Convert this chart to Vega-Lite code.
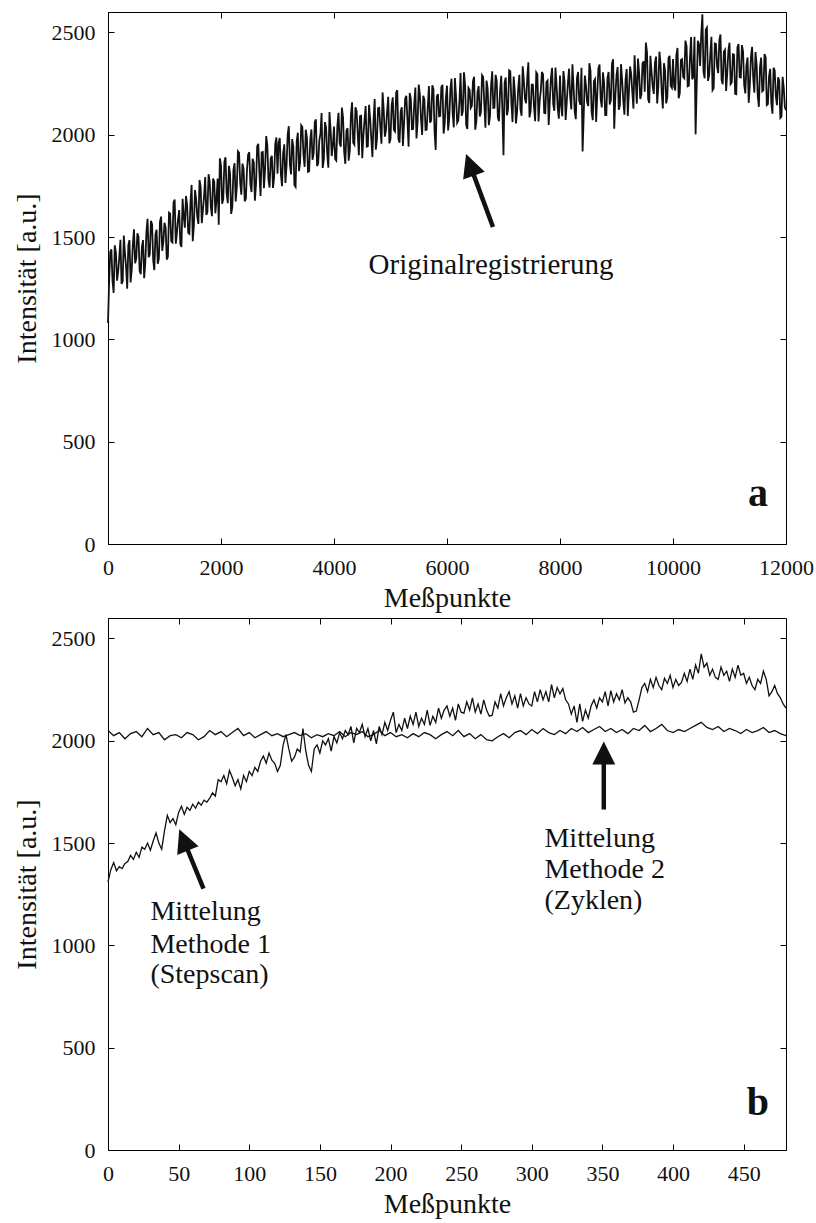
{
  "$schema": "https://vega.github.io/schema/vega-lite/v6.json",
  "background": "white",
  "padding": {"left": 12, "top": 10, "right": 5, "bottom": 0},
  "spacing": 4,
  "config": {
    "font": "Liberation Serif",
    "view": {"stroke": "black", "strokeWidth": 1},
    "axis": {
      "grid": false,
      "domain": false,
      "labelFont": "Liberation Serif",
      "labelFontSize": 22,
      "labelColor": "#111",
      "labelFlush": false,
      "labelOverlap": false,
      "titleFont": "Liberation Serif",
      "titleFontSize": 28,
      "titleFontWeight": "normal",
      "titleColor": "#111",
      "tickColor": "black",
      "tickSize": -6,
      "labelPadding": 19
    },
    "axisY": {"titlePadding": 10},
    "axisX": {"titlePadding": 6}
  },
  "datasets": {
    "orig": [
      {"x":0,"y":1080},{"x":40,"y":1427},{"x":80,"y":1284},{"x":120,"y":1460},{"x":160,"y":1287},{"x":200,"y":1404},{"x":240,"y":1271},{"x":280,"y":1508},{"x":320,"y":1354},{"x":360,"y":1461},{"x":400,"y":1278},{"x":440,"y":1465},{"x":480,"y":1372},{"x":520,"y":1518},{"x":560,"y":1335},{"x":600,"y":1452},{"x":640,"y":1299},{"x":680,"y":1526},{"x":720,"y":1402},{"x":760,"y":1579},{"x":800,"y":1386},{"x":840,"y":1513},{"x":880,"y":1370},{"x":920,"y":1576},{"x":960,"y":1433},
      {"x":1000,"y":1570},{"x":1040,"y":1390},{"x":1080,"y":1619},{"x":1120,"y":1479},{"x":1160,"y":1668},{"x":1200,"y":1468},{"x":1240,"y":1588},{"x":1280,"y":1467},{"x":1320,"y":1687},{"x":1360,"y":1546},{"x":1400,"y":1656},{"x":1440,"y":1516},{"x":1480,"y":1755},{"x":1520,"y":1555},{"x":1560,"y":1684},{"x":1600,"y":1564},{"x":1640,"y":1744},{"x":1680,"y":1633},{"x":1720,"y":1793},{"x":1760,"y":1622},{"x":1800,"y":1772},{"x":1840,"y":1602},{"x":1880,"y":1771},{"x":1920,"y":1681},{"x":1960,"y":1560},
      {"x":2000,"y":1850},{"x":2040,"y":1685},{"x":2080,"y":1890},{"x":2120,"y":1666},{"x":2160,"y":1811},{"x":2200,"y":1646},{"x":2240,"y":1861},{"x":2280,"y":1746},{"x":2320,"y":1912},{"x":2360,"y":1707},{"x":2400,"y":1832},{"x":2440,"y":1687},{"x":2480,"y":1902},{"x":2520,"y":1758},{"x":2560,"y":1883},{"x":2600,"y":1678},{"x":2640,"y":1943},{"x":2680,"y":1808},{"x":2720,"y":1914},{"x":2760,"y":1739},{"x":2800,"y":1994},{"x":2840,"y":1779},{"x":2880,"y":1884},{"x":2920,"y":1740},{"x":2960,"y":1955},
      {"x":3000,"y":1810},{"x":3040,"y":1984},{"x":3080,"y":1749},{"x":3120,"y":1953},{"x":3160,"y":1848},{"x":3200,"y":2042},{"x":3240,"y":1806},{"x":3280,"y":1941},{"x":3320,"y":1745},{"x":3360,"y":2010},{"x":3400,"y":1864},{"x":3440,"y":2038},{"x":3480,"y":1843},{"x":3520,"y":1987},{"x":3560,"y":1822},{"x":3600,"y":2026},{"x":3640,"y":1910},{"x":3680,"y":2075},{"x":3720,"y":1859},{"x":3760,"y":2004},{"x":3800,"y":1838},{"x":3840,"y":2062},{"x":3880,"y":1907},{"x":3920,"y":2111},{"x":3960,"y":1896},
      {"x":4000,"y":2040},{"x":4040,"y":1874},{"x":4080,"y":2107},{"x":4120,"y":1941},{"x":4160,"y":2084},{"x":4200,"y":1858},{"x":4240,"y":2032},{"x":4280,"y":1925},{"x":4320,"y":2159},{"x":4360,"y":1952},{"x":4400,"y":2116},{"x":4440,"y":1900},{"x":4480,"y":2093},{"x":4520,"y":1997},{"x":4560,"y":2140},{"x":4600,"y":1944},{"x":4640,"y":2078},{"x":4680,"y":1891},{"x":4720,"y":2175},{"x":4760,"y":1978},{"x":4800,"y":2132},{"x":4840,"y":1956},{"x":4880,"y":2119},{"x":4920,"y":2023},{"x":4960,"y":2186},
      {"x":5000,"y":1980},{"x":5040,"y":2183},{"x":5080,"y":2016},{"x":5120,"y":2218},{"x":5160,"y":1961},{"x":5200,"y":2134},{"x":5240,"y":2057},{"x":5280,"y":2190},{"x":5320,"y":1942},{"x":5360,"y":2175},{"x":5400,"y":2028},{"x":5440,"y":2231},{"x":5480,"y":2064},{"x":5520,"y":2196},{"x":5560,"y":1999},{"x":5600,"y":2172},{"x":5640,"y":2025},{"x":5680,"y":2238},{"x":5720,"y":2070},{"x":5760,"y":2223},{"x":5800,"y":1926},{"x":5840,"y":2199},{"x":5880,"y":2092},{"x":5920,"y":2244},{"x":5960,"y":2057},
      {"x":6000,"y":2240},{"x":6040,"y":2082},{"x":6080,"y":2274},{"x":6120,"y":2036},{"x":6160,"y":2188},{"x":6200,"y":2070},{"x":6240,"y":2302},{"x":6280,"y":2114},{"x":6320,"y":2246},{"x":6360,"y":2028},{"x":6400,"y":2220},{"x":6440,"y":2142},{"x":6480,"y":2284},{"x":6520,"y":2066},{"x":6560,"y":2238},{"x":6600,"y":2110},{"x":6640,"y":2282},{"x":6680,"y":2034},{"x":6720,"y":2226},{"x":6760,"y":2088},{"x":6800,"y":2310},{"x":6840,"y":2132},{"x":6880,"y":2264},{"x":6920,"y":2066},{"x":6960,"y":2288},
      {"x":7000,"y":1900},{"x":7040,"y":2280},{"x":7080,"y":2121},{"x":7120,"y":2311},{"x":7160,"y":2062},{"x":7200,"y":2212},{"x":7240,"y":2112},{"x":7280,"y":2293},{"x":7320,"y":2093},{"x":7360,"y":2264},{"x":7400,"y":2154},{"x":7440,"y":2354},{"x":7480,"y":2115},{"x":7520,"y":2245},{"x":7560,"y":2066},{"x":7600,"y":2296},{"x":7640,"y":2166},{"x":7680,"y":2307},{"x":7720,"y":2107},{"x":7760,"y":2258},{"x":7800,"y":2048},{"x":7840,"y":2278},{"x":7880,"y":2149},{"x":7920,"y":2329},{"x":7960,"y":2130},
      {"x":8000,"y":2290},{"x":8040,"y":2091},{"x":8080,"y":2262},{"x":8120,"y":2162},{"x":8160,"y":2323},{"x":8200,"y":2124},{"x":8240,"y":2235},{"x":8280,"y":2076},{"x":8320,"y":2307},{"x":8360,"y":2147},{"x":8400,"y":1918},{"x":8440,"y":2289},{"x":8480,"y":2160},{"x":8520,"y":2350},{"x":8560,"y":2111},{"x":8600,"y":2262},{"x":8640,"y":2063},{"x":8680,"y":2324},{"x":8720,"y":2174},{"x":8760,"y":2305},{"x":8800,"y":2096},{"x":8840,"y":2277},{"x":8880,"y":2148},{"x":8920,"y":2348},{"x":8960,"y":2029},
      {"x":9000,"y":2290},{"x":9040,"y":2122},{"x":9080,"y":2345},{"x":9120,"y":2167},{"x":9160,"y":2270},{"x":9200,"y":2092},{"x":9240,"y":2334},{"x":9280,"y":2207},{"x":9320,"y":2389},{"x":9360,"y":2152},{"x":9400,"y":2304},{"x":9440,"y":2196},{"x":9480,"y":2359},{"x":9520,"y":2451},{"x":9560,"y":2174},{"x":9600,"y":2386},{"x":9640,"y":2238},{"x":9680,"y":2351},{"x":9720,"y":2153},{"x":9760,"y":2406},{"x":9800,"y":2208},{"x":9840,"y":2350},{"x":9880,"y":2153},{"x":9920,"y":2375},{"x":9960,"y":2238},
      {"x":10000,"y":2370},{"x":10040,"y":2217},{"x":10080,"y":2424},{"x":10120,"y":2202},{"x":10160,"y":2369},{"x":10200,"y":2276},{"x":10240,"y":2433},{"x":10280,"y":2240},{"x":10320,"y":2478},{"x":10360,"y":2285},{"x":10400,"y":2002},{"x":10440,"y":2459},{"x":10480,"y":2336},{"x":10520,"y":2589},{"x":10560,"y":2276},{"x":10600,"y":2524},{"x":10640,"y":2292},{"x":10680,"y":2479},{"x":10720,"y":2227},{"x":10760,"y":2444},{"x":10800,"y":2302},{"x":10840,"y":2490},{"x":10880,"y":2247},{"x":10920,"y":2415},{"x":10960,"y":2302},
      {"x":11000,"y":2450},{"x":11040,"y":2256},{"x":11080,"y":2392},{"x":11120,"y":2198},{"x":11160,"y":2444},{"x":11200,"y":2280},{"x":11240,"y":2406},{"x":11280,"y":2202},{"x":11320,"y":2378},{"x":11360,"y":2244},{"x":11400,"y":2430},{"x":11440,"y":2206},{"x":11480,"y":2342},{"x":11520,"y":2136},{"x":11560,"y":2377},{"x":11600,"y":2218},{"x":11640,"y":2379},{"x":11680,"y":2150},{"x":11720,"y":2322},{"x":11760,"y":2103},{"x":11800,"y":2314},{"x":11840,"y":2145},{"x":11880,"y":2266},{"x":11920,"y":2088},{"x":11960,"y":2229},{"x":12000,"y":2120},
      {"x":20,"y":1283},{"x":60,"y":1440},{"x":100,"y":1227},{"x":140,"y":1424},{"x":180,"y":1331},{"x":220,"y":1487},{"x":260,"y":1284},{"x":300,"y":1421},{"x":340,"y":1248},{"x":380,"y":1485},{"x":420,"y":1341},{"x":460,"y":1538},{"x":500,"y":1395},{"x":540,"y":1502},{"x":580,"y":1319},{"x":620,"y":1485},{"x":660,"y":1372},{"x":700,"y":1589},{"x":740,"y":1416},{"x":780,"y":1563},{"x":820,"y":1339},{"x":860,"y":1536},{"x":900,"y":1393},{"x":940,"y":1600},{"x":980,"y":1477},
      {"x":1020,"y":1545},{"x":1060,"y":1404},{"x":1100,"y":1614},{"x":1140,"y":1474},{"x":1180,"y":1683},{"x":1220,"y":1523},{"x":1260,"y":1632},{"x":1300,"y":1452},{"x":1340,"y":1602},{"x":1380,"y":1701},{"x":1420,"y":1521},{"x":1460,"y":1670},{"x":1500,"y":1480},{"x":1540,"y":1730},{"x":1580,"y":1599},{"x":1620,"y":1779},{"x":1660,"y":1568},{"x":1700,"y":1698},{"x":1740,"y":1608},{"x":1780,"y":1807},{"x":1820,"y":1647},{"x":1860,"y":1786},{"x":1900,"y":1616},{"x":1940,"y":1786},{"x":1980,"y":1885},
      {"x":2020,"y":1663},{"x":2060,"y":1868},{"x":2100,"y":1713},{"x":2140,"y":1848},{"x":2180,"y":1613},{"x":2220,"y":1829},{"x":2260,"y":1674},{"x":2300,"y":1919},{"x":2340,"y":1764},{"x":2380,"y":1859},{"x":2420,"y":1675},{"x":2460,"y":1830},{"x":2500,"y":1915},{"x":2540,"y":1720},{"x":2580,"y":1865},{"x":2620,"y":1761},{"x":2660,"y":1956},{"x":2700,"y":1701},{"x":2740,"y":1916},{"x":2780,"y":1831},{"x":2820,"y":1947},{"x":2860,"y":1742},{"x":2900,"y":1897},{"x":2940,"y":1792},{"x":2980,"y":1987},
      {"x":3020,"y":1962},{"x":3060,"y":1807},{"x":3100,"y":1911},{"x":3140,"y":1765},{"x":3180,"y":2000},{"x":3220,"y":1854},{"x":3260,"y":1979},{"x":3300,"y":1753},{"x":3340,"y":1967},{"x":3380,"y":1822},{"x":3420,"y":2046},{"x":3460,"y":1901},{"x":3500,"y":2025},{"x":3540,"y":1819},{"x":3580,"y":1974},{"x":3620,"y":1878},{"x":3660,"y":2063},{"x":3700,"y":1847},{"x":3740,"y":1971},{"x":3780,"y":2106},{"x":3820,"y":1880},{"x":3860,"y":2035},{"x":3900,"y":1839},{"x":3940,"y":2023},{"x":3980,"y":1948},
      {"x":4020,"y":1882},{"x":4060,"y":2045},{"x":4100,"y":1959},{"x":4140,"y":2133},{"x":4180,"y":1916},{"x":4220,"y":2020},{"x":4260,"y":1873},{"x":4300,"y":2097},{"x":4340,"y":1961},{"x":4380,"y":2134},{"x":4420,"y":2008},{"x":4460,"y":2091},{"x":4500,"y":1885},{"x":4540,"y":2069},{"x":4580,"y":1942},{"x":4620,"y":2146},{"x":4660,"y":1979},{"x":4700,"y":2073},{"x":4740,"y":1927},{"x":4780,"y":2130},{"x":4820,"y":2034},{"x":4860,"y":2207},{"x":4900,"y":1991},{"x":4940,"y":2115},{"x":4980,"y":1958},
      {"x":5020,"y":2141},{"x":5060,"y":2024},{"x":5100,"y":2207},{"x":5140,"y":1980},{"x":5180,"y":2113},{"x":5220,"y":1945},{"x":5260,"y":2178},{"x":5300,"y":2071},{"x":5340,"y":2204},{"x":5380,"y":2027},{"x":5420,"y":2149},{"x":5460,"y":1982},{"x":5500,"y":2245},{"x":5540,"y":2078},{"x":5580,"y":2191},{"x":5620,"y":2023},{"x":5660,"y":2136},{"x":5700,"y":2059},{"x":5740,"y":2242},{"x":5780,"y":2015},{"x":5820,"y":2187},{"x":5860,"y":2090},{"x":5900,"y":2233},{"x":5940,"y":2006},{"x":5980,"y":2179},
      {"x":6020,"y":2021},{"x":6060,"y":2223},{"x":6100,"y":2105},{"x":6140,"y":2277},{"x":6180,"y":2059},{"x":6220,"y":2161},{"x":6260,"y":2093},{"x":6300,"y":2305},{"x":6340,"y":2047},{"x":6380,"y":2229},{"x":6420,"y":2131},{"x":6460,"y":2263},{"x":6500,"y":2025},{"x":6540,"y":2207},{"x":6580,"y":2089},{"x":6620,"y":2291},{"x":6660,"y":2153},{"x":6700,"y":2265},{"x":6740,"y":2047},{"x":6780,"y":2239},{"x":6820,"y":2131},{"x":6860,"y":2293},{"x":6900,"y":2085},{"x":6940,"y":2217},{"x":6980,"y":2119},
      {"x":7020,"y":2255},{"x":7060,"y":2095},{"x":7100,"y":2315},{"x":7140,"y":2155},{"x":7180,"y":2285},{"x":7220,"y":2055},{"x":7260,"y":2225},{"x":7300,"y":2125},{"x":7340,"y":2335},{"x":7380,"y":2175},{"x":7420,"y":2275},{"x":7460,"y":2085},{"x":7500,"y":2245},{"x":7540,"y":2135},{"x":7580,"y":2305},{"x":7620,"y":2065},{"x":7660,"y":2215},{"x":7700,"y":2295},{"x":7740,"y":2105},{"x":7780,"y":2265},{"x":7820,"y":2167},{"x":7860,"y":2327},{"x":7900,"y":2117},{"x":7940,"y":2237},{"x":7980,"y":2079},
      {"x":8020,"y":2140},{"x":8060,"y":2311},{"x":8100,"y":2072},{"x":8140,"y":2253},{"x":8180,"y":2185},{"x":8220,"y":2345},{"x":8260,"y":2116},{"x":8300,"y":2277},{"x":8340,"y":2167},{"x":8380,"y":2328},{"x":8420,"y":2098},{"x":8460,"y":2240},{"x":8500,"y":2140},{"x":8540,"y":2311},{"x":8580,"y":2071},{"x":8620,"y":2272},{"x":8660,"y":2202},{"x":8700,"y":2343},{"x":8740,"y":2134},{"x":8780,"y":2255},{"x":8820,"y":2096},{"x":8860,"y":2307},{"x":8900,"y":2168},{"x":8940,"y":2369},{"x":8980,"y":2190},
      {"x":9020,"y":2331},{"x":9060,"y":2144},{"x":9100,"y":2266},{"x":9140,"y":2098},{"x":9180,"y":2321},{"x":9220,"y":2213},{"x":9260,"y":2296},{"x":9300,"y":2128},{"x":9340,"y":2260},{"x":9380,"y":2373},{"x":9420,"y":2175},{"x":9460,"y":2348},{"x":9500,"y":2210},{"x":9540,"y":2402},{"x":9580,"y":2155},{"x":9620,"y":2307},{"x":9660,"y":2200},{"x":9700,"y":2382},{"x":9740,"y":2234},{"x":9780,"y":2347},{"x":9820,"y":2129},{"x":9860,"y":2312},{"x":9900,"y":2184},{"x":9940,"y":2386},{"x":9980,"y":2229},
      {"x":10020,"y":2234},{"x":10060,"y":2391},{"x":10100,"y":2178},{"x":10140,"y":2365},{"x":10180,"y":2283},{"x":10220,"y":2460},{"x":10260,"y":2237},{"x":10300,"y":2374},{"x":10340,"y":2271},{"x":10380,"y":2479},{"x":10420,"y":2246},{"x":10460,"y":2443},{"x":10500,"y":2490},{"x":10540,"y":2308},{"x":10580,"y":2515},{"x":10620,"y":2263},{"x":10660,"y":2390},{"x":10700,"y":2218},{"x":10740,"y":2446},{"x":10780,"y":2333},{"x":10820,"y":2461},{"x":10860,"y":2268},{"x":10900,"y":2406},{"x":10940,"y":2214},{"x":10980,"y":2411},
      {"x":11020,"y":2248},{"x":11060,"y":2394},{"x":11100,"y":2200},{"x":11140,"y":2426},{"x":11180,"y":2282},{"x":11220,"y":2438},{"x":11260,"y":2244},{"x":11300,"y":2340},{"x":11340,"y":2156},{"x":11380,"y":2382},{"x":11420,"y":2278},{"x":11460,"y":2404},{"x":11500,"y":2190},{"x":11540,"y":2331},{"x":11580,"y":2212},{"x":11620,"y":2394},{"x":11660,"y":2145},{"x":11700,"y":2286},{"x":11740,"y":2157},{"x":11780,"y":2328},{"x":11820,"y":2190},{"x":11860,"y":2281},{"x":11900,"y":2082},{"x":11940,"y":2283},{"x":11980,"y":2135}
    ],
    "stepscan": [
      {"x":0,"y":1310},{"x":2,"y":1370},{"x":4,"y":1405},{"x":6,"y":1365},{"x":8,"y":1385},{"x":10,"y":1375},{"x":12,"y":1400},{"x":14,"y":1410},{"x":16,"y":1440},{"x":18,"y":1420},{"x":20,"y":1455},{"x":22,"y":1430},{"x":24,"y":1480},{"x":26,"y":1470},{"x":28,"y":1500},{"x":30,"y":1465},{"x":32,"y":1510},{"x":34,"y":1550},{"x":36,"y":1500},{"x":38,"y":1470},{"x":40,"y":1560},{"x":42,"y":1635},{"x":44,"y":1600},{"x":46,"y":1620},{"x":48,"y":1590},{"x":50,"y":1650},{"x":52,"y":1680},{"x":54,"y":1640},{"x":56,"y":1675},{"x":58,"y":1660},{"x":60,"y":1690},{"x":62,"y":1670},{"x":64,"y":1700},{"x":66,"y":1685},{"x":68,"y":1710},{"x":70,"y":1700},{"x":72,"y":1720},{"x":74,"y":1745},{"x":76,"y":1730},{"x":78,"y":1810},
      {"x":80,"y":1800},{"x":82,"y":1830},{"x":84,"y":1790},{"x":86,"y":1855},{"x":88,"y":1820},{"x":90,"y":1780},{"x":92,"y":1810},{"x":94,"y":1765},{"x":96,"y":1830},{"x":98,"y":1800},{"x":100,"y":1850},{"x":102,"y":1830},{"x":104,"y":1870},{"x":106,"y":1850},{"x":108,"y":1900},{"x":110,"y":1925},{"x":112,"y":1890},{"x":114,"y":1940},{"x":116,"y":1905},{"x":118,"y":1890},{"x":120,"y":1850},{"x":122,"y":1880},{"x":124,"y":1980},{"x":126,"y":2030},{"x":128,"y":1960},{"x":130,"y":1900},{"x":132,"y":1920},{"x":134,"y":1960},{"x":136,"y":1945},{"x":138,"y":2060},{"x":140,"y":1950},{"x":142,"y":1880},{"x":144,"y":1850},{"x":146,"y":1960},{"x":148,"y":1980},{"x":150,"y":1940},{"x":152,"y":2000},{"x":154,"y":1980},{"x":156,"y":2010},{"x":158,"y":1950},
      {"x":160,"y":2020},{"x":162,"y":1990},{"x":164,"y":2040},{"x":166,"y":2010},{"x":168,"y":2050},{"x":170,"y":2030},{"x":172,"y":2070},{"x":174,"y":1990},{"x":176,"y":2060},{"x":178,"y":2040},{"x":180,"y":2080},{"x":182,"y":2020},{"x":184,"y":2060},{"x":186,"y":2000},{"x":188,"y":2050},{"x":190,"y":1985},{"x":192,"y":2070},{"x":194,"y":2030},{"x":196,"y":2090},{"x":198,"y":2050},{"x":200,"y":2100},{"x":202,"y":2140},{"x":204,"y":2040},{"x":206,"y":2080},{"x":208,"y":2050},{"x":210,"y":2110},{"x":212,"y":2060},{"x":214,"y":2120},{"x":216,"y":2080},{"x":218,"y":2140},{"x":220,"y":2070},{"x":222,"y":2110},{"x":224,"y":2080},{"x":226,"y":2150},{"x":228,"y":2075},{"x":230,"y":2120},{"x":232,"y":2090},{"x":234,"y":2160},{"x":236,"y":2110},{"x":238,"y":2150},
      {"x":240,"y":2170},{"x":242,"y":2120},{"x":244,"y":2160},{"x":246,"y":2100},{"x":248,"y":2180},{"x":250,"y":2140},{"x":252,"y":2135},{"x":254,"y":2190},{"x":256,"y":2150},{"x":258,"y":2210},{"x":260,"y":2140},{"x":262,"y":2180},{"x":264,"y":2130},{"x":266,"y":2200},{"x":268,"y":2150},{"x":270,"y":2120},{"x":272,"y":2125},{"x":274,"y":2190},{"x":276,"y":2160},{"x":278,"y":2230},{"x":280,"y":2170},{"x":282,"y":2210},{"x":284,"y":2240},{"x":286,"y":2180},{"x":288,"y":2220},{"x":290,"y":2160},{"x":292,"y":2230},{"x":294,"y":2170},{"x":296,"y":2210},{"x":298,"y":2180},{"x":300,"y":2170},{"x":302,"y":2240},{"x":304,"y":2190},{"x":306,"y":2250},{"x":308,"y":2200},{"x":310,"y":2240},{"x":312,"y":2190},{"x":314,"y":2275},{"x":316,"y":2210},{"x":318,"y":2260},
      {"x":320,"y":2230},{"x":322,"y":2255},{"x":324,"y":2200},{"x":326,"y":2180},{"x":328,"y":2130},{"x":330,"y":2170},{"x":332,"y":2090},{"x":334,"y":2180},{"x":336,"y":2095},{"x":338,"y":2150},{"x":340,"y":2110},{"x":342,"y":2170},{"x":344,"y":2200},{"x":346,"y":2160},{"x":348,"y":2210},{"x":350,"y":2190},{"x":352,"y":2240},{"x":354,"y":2170},{"x":356,"y":2245},{"x":358,"y":2190},{"x":360,"y":2230},{"x":362,"y":2200},{"x":364,"y":2250},{"x":366,"y":2185},{"x":368,"y":2210},{"x":370,"y":2190},{"x":372,"y":2140},{"x":374,"y":2145},{"x":376,"y":2200},{"x":378,"y":2260},{"x":380,"y":2280},{"x":382,"y":2240},{"x":384,"y":2300},{"x":386,"y":2260},{"x":388,"y":2310},{"x":390,"y":2270},{"x":392,"y":2250},{"x":394,"y":2305},{"x":396,"y":2280},{"x":398,"y":2320},
      {"x":400,"y":2260},{"x":402,"y":2300},{"x":404,"y":2270},{"x":406,"y":2285},{"x":408,"y":2330},{"x":410,"y":2290},{"x":412,"y":2350},{"x":414,"y":2300},{"x":416,"y":2370},{"x":418,"y":2330},{"x":420,"y":2425},{"x":422,"y":2360},{"x":424,"y":2380},{"x":426,"y":2320},{"x":428,"y":2350},{"x":430,"y":2310},{"x":432,"y":2300},{"x":434,"y":2360},{"x":436,"y":2320},{"x":438,"y":2340},{"x":440,"y":2290},{"x":442,"y":2350},{"x":444,"y":2310},{"x":446,"y":2370},{"x":448,"y":2320},{"x":450,"y":2330},{"x":452,"y":2280},{"x":454,"y":2310},{"x":456,"y":2270},{"x":458,"y":2250},{"x":460,"y":2300},{"x":462,"y":2280},{"x":464,"y":2340},{"x":466,"y":2300},{"x":468,"y":2220},{"x":470,"y":2240},{"x":472,"y":2270},{"x":474,"y":2230},{"x":476,"y":2210},{"x":478,"y":2180},{"x":480,"y":2160}
    ],
    "zyklen": [
      {"x":0,"y":2050},{"x":4,"y":2025},{"x":8,"y":2040},{"x":12,"y":2010},{"x":16,"y":2035},{"x":20,"y":2045},{"x":24,"y":2020},{"x":28,"y":2060},{"x":32,"y":2030},{"x":36,"y":2040},{"x":40,"y":2005},{"x":44,"y":2025},{"x":48,"y":2030},{"x":52,"y":2015},{"x":56,"y":2040},{"x":60,"y":2030},{"x":64,"y":2005},{"x":68,"y":2020},{"x":72,"y":2050},{"x":76,"y":2030},{"x":80,"y":2045},{"x":84,"y":2020},{"x":88,"y":2040},{"x":92,"y":2060},{"x":96,"y":2025},{"x":100,"y":2040},{"x":104,"y":2015},{"x":108,"y":2030},{"x":112,"y":2045},{"x":116,"y":2025},
      {"x":120,"y":2035},{"x":124,"y":2020},{"x":128,"y":2030},{"x":132,"y":2040},{"x":136,"y":2025},{"x":140,"y":2035},{"x":144,"y":2015},{"x":148,"y":2030},{"x":152,"y":2020},{"x":156,"y":2035},{"x":160,"y":2025},{"x":164,"y":2045},{"x":168,"y":2020},{"x":172,"y":2040},{"x":176,"y":2030},{"x":180,"y":2045},{"x":184,"y":2020},{"x":188,"y":2030},{"x":192,"y":2050},{"x":196,"y":2025},{"x":200,"y":2040},{"x":204,"y":2020},{"x":208,"y":2030},{"x":212,"y":2015},{"x":216,"y":2035},{"x":220,"y":2020},{"x":224,"y":2040},{"x":228,"y":2030},{"x":232,"y":2010},{"x":236,"y":2030},
      {"x":240,"y":2045},{"x":244,"y":2025},{"x":248,"y":2050},{"x":252,"y":2020},{"x":256,"y":2035},{"x":260,"y":2010},{"x":264,"y":2030},{"x":268,"y":2005},{"x":272,"y":2000},{"x":276,"y":2020},{"x":280,"y":2035},{"x":284,"y":2015},{"x":288,"y":2040},{"x":292,"y":2050},{"x":296,"y":2030},{"x":300,"y":2055},{"x":304,"y":2035},{"x":308,"y":2060},{"x":312,"y":2040},{"x":316,"y":2030},{"x":320,"y":2050},{"x":324,"y":2035},{"x":328,"y":2060},{"x":332,"y":2045},{"x":336,"y":2065},{"x":340,"y":2040},{"x":344,"y":2055},{"x":348,"y":2070},{"x":352,"y":2045},{"x":356,"y":2060},
      {"x":360,"y":2040},{"x":364,"y":2055},{"x":368,"y":2035},{"x":372,"y":2060},{"x":376,"y":2050},{"x":380,"y":2075},{"x":384,"y":2045},{"x":388,"y":2060},{"x":392,"y":2080},{"x":396,"y":2050},{"x":400,"y":2040},{"x":404,"y":2055},{"x":408,"y":2045},{"x":412,"y":2060},{"x":416,"y":2075},{"x":420,"y":2090},{"x":424,"y":2065},{"x":428,"y":2055},{"x":432,"y":2070},{"x":436,"y":2045},{"x":440,"y":2060},{"x":444,"y":2050},{"x":448,"y":2035},{"x":452,"y":2055},{"x":456,"y":2040},{"x":460,"y":2050},{"x":464,"y":2065},{"x":468,"y":2040},{"x":472,"y":2050},{"x":476,"y":2035},{"x":480,"y":2025}
    ],
    "arrows": [
      {"p":"a","x":6814,"y":1549,"x2":6407,"y2":1853},
      {"p":"b1","x":67.6,"y":1277,"x2":53.5,"y2":1515},
      {"p":"b2","x":351,"y":1664,"x2":351,"y2":1940}
    ],
    "notesA": [
      {"x":6779,"y":1320,"t":"Originalregistrierung"}
    ],
    "notesB": [
      {"x":30,"y":1122,"t":"Mittelung"},
      {"x":30,"y":965,"t":"Methode 1"},
      {"x":30,"y":814,"t":"(Stepscan)"},
      {"x":309,"y":1481,"t":"Mittelung"},
      {"x":309,"y":1329,"t":"Methode 2"},
      {"x":309,"y":1180,"t":"(Zyklen)"}
    ],
    "panelA": [{"x":11504,"y":186,"t":"a"}],
    "panelB": [{"x":460,"y":170,"t":"b"}]
  },
  "vconcat": [
    {
      "width": 678,
      "height": 532,
      "resolve": {"axis": {"x": "independent", "y": "independent"}},
      "layer": [
        {
          "data": {"name": "orig"},
          "mark": {"type": "line", "color": "#111", "strokeWidth": 1.8},
          "encoding": {
            "x": {"field": "x", "type": "quantitative", "scale": {"domain": [0, 12000], "nice": false},
                  "axis": {"orient": "bottom", "title": "Meßpunkte", "values": [0, 2000, 4000, 6000, 8000, 10000, 12000], "format": "d"}},
            "y": {"field": "y", "type": "quantitative", "scale": {"domain": [0, 2600], "nice": false, "zero": false},
                  "axis": {"orient": "left", "title": "Intensität [a.u.]", "values": [0, 500, 1000, 1500, 2000, 2500], "format": "d"}}
          }
        },
        {
          "data": {"name": "arrows"},
          "transform": [{"filter": "datum.p === 'a'"}],
          "mark": {"type": "rule", "color": "#111", "strokeWidth": 4.5},
          "encoding": {
            "x": {"field": "x", "type": "quantitative", "axis": null},
            "y": {"field": "y", "type": "quantitative", "axis": null},
            "x2": {"field": "x2"},
            "y2": {"field": "y2"}
          }
        },
        {
          "data": {"name": "arrows"},
          "transform": [{"filter": "datum.p === 'a'"}],
          "mark": {"type": "point", "shape": "M0,-1L-1,1L1,1Z", "filled": true, "color": "#111", "opacity": 1, "size": 529, "angle": -20},
          "encoding": {
            "x": {"field": "x2", "type": "quantitative", "axis": null},
            "y": {"field": "y2", "type": "quantitative", "axis": null}
          }
        },
        {
          "data": {"name": "notesA"},
          "mark": {"type": "text", "font": "Liberation Serif", "fontSize": 29, "color": "#111", "align": "center", "baseline": "alphabetic"},
          "encoding": {
            "x": {"field": "x", "type": "quantitative", "axis": null},
            "y": {"field": "y", "type": "quantitative", "axis": null},
            "text": {"field": "t"}
          }
        },
        {
          "data": {"name": "panelA"},
          "mark": {"type": "text", "font": "Liberation Serif", "fontSize": 40, "fontWeight": "bold", "color": "#111", "align": "center", "baseline": "alphabetic"},
          "encoding": {
            "x": {"field": "x", "type": "quantitative",
                  "axis": {"orient": "top", "labels": false, "title": null, "values": [0, 2000, 4000, 6000, 8000, 10000, 12000]}},
            "y": {"field": "y", "type": "quantitative",
                  "axis": {"orient": "right", "labels": false, "title": null, "values": [0, 500, 1000, 1500, 2000, 2500]}},
            "text": {"field": "t"}
          }
        }
      ]
    },
    {
      "width": 678,
      "height": 532,
      "resolve": {"axis": {"x": "independent", "y": "independent"}},
      "layer": [
        {
          "data": {"name": "stepscan"},
          "mark": {"type": "line", "color": "#111", "strokeWidth": 1.3},
          "encoding": {
            "x": {"field": "x", "type": "quantitative", "scale": {"domain": [0, 480], "nice": false},
                  "axis": {"orient": "bottom", "title": "Meßpunkte", "values": [0, 50, 100, 150, 200, 250, 300, 350, 400, 450]}},
            "y": {"field": "y", "type": "quantitative", "scale": {"domain": [0, 2600], "nice": false, "zero": false},
                  "axis": {"orient": "left", "title": "Intensität [a.u.]", "values": [0, 500, 1000, 1500, 2000, 2500], "format": "d"}}
          }
        },
        {
          "data": {"name": "zyklen"},
          "mark": {"type": "line", "color": "#111", "strokeWidth": 1.3},
          "encoding": {
            "x": {"field": "x", "type": "quantitative", "axis": null},
            "y": {"field": "y", "type": "quantitative", "axis": null}
          }
        },
        {
          "data": {"name": "arrows"},
          "transform": [{"filter": "datum.p !== 'a'"}],
          "mark": {"type": "rule", "color": "#111", "strokeWidth": 4.5},
          "encoding": {
            "x": {"field": "x", "type": "quantitative", "axis": null},
            "y": {"field": "y", "type": "quantitative", "axis": null},
            "x2": {"field": "x2"},
            "y2": {"field": "y2"}
          }
        },
        {
          "data": {"name": "arrows"},
          "transform": [{"filter": "datum.p === 'b1'"}],
          "mark": {"type": "point", "shape": "M0,-1L-1,1L1,1Z", "filled": true, "color": "#111", "opacity": 1, "size": 529, "angle": -22},
          "encoding": {
            "x": {"field": "x2", "type": "quantitative", "axis": null},
            "y": {"field": "y2", "type": "quantitative", "axis": null}
          }
        },
        {
          "data": {"name": "arrows"},
          "transform": [{"filter": "datum.p === 'b2'"}],
          "mark": {"type": "point", "shape": "M0,-1L-1,1L1,1Z", "filled": true, "color": "#111", "opacity": 1, "size": 529, "angle": 0},
          "encoding": {
            "x": {"field": "x2", "type": "quantitative", "axis": null},
            "y": {"field": "y2", "type": "quantitative", "axis": null}
          }
        },
        {
          "data": {"name": "notesB"},
          "mark": {"type": "text", "font": "Liberation Serif", "fontSize": 28, "color": "#111", "align": "left", "baseline": "alphabetic"},
          "encoding": {
            "x": {"field": "x", "type": "quantitative", "axis": null},
            "y": {"field": "y", "type": "quantitative", "axis": null},
            "text": {"field": "t"}
          }
        },
        {
          "data": {"name": "panelB"},
          "mark": {"type": "text", "font": "Liberation Serif", "fontSize": 40, "fontWeight": "bold", "color": "#111", "align": "center", "baseline": "alphabetic"},
          "encoding": {
            "x": {"field": "x", "type": "quantitative",
                  "axis": {"orient": "top", "labels": false, "title": null, "values": [0, 50, 100, 150, 200, 250, 300, 350, 400, 450]}},
            "y": {"field": "y", "type": "quantitative",
                  "axis": {"orient": "right", "labels": false, "title": null, "values": [0, 500, 1000, 1500, 2000, 2500]}},
            "text": {"field": "t"}
          }
        }
      ]
    }
  ]
}
